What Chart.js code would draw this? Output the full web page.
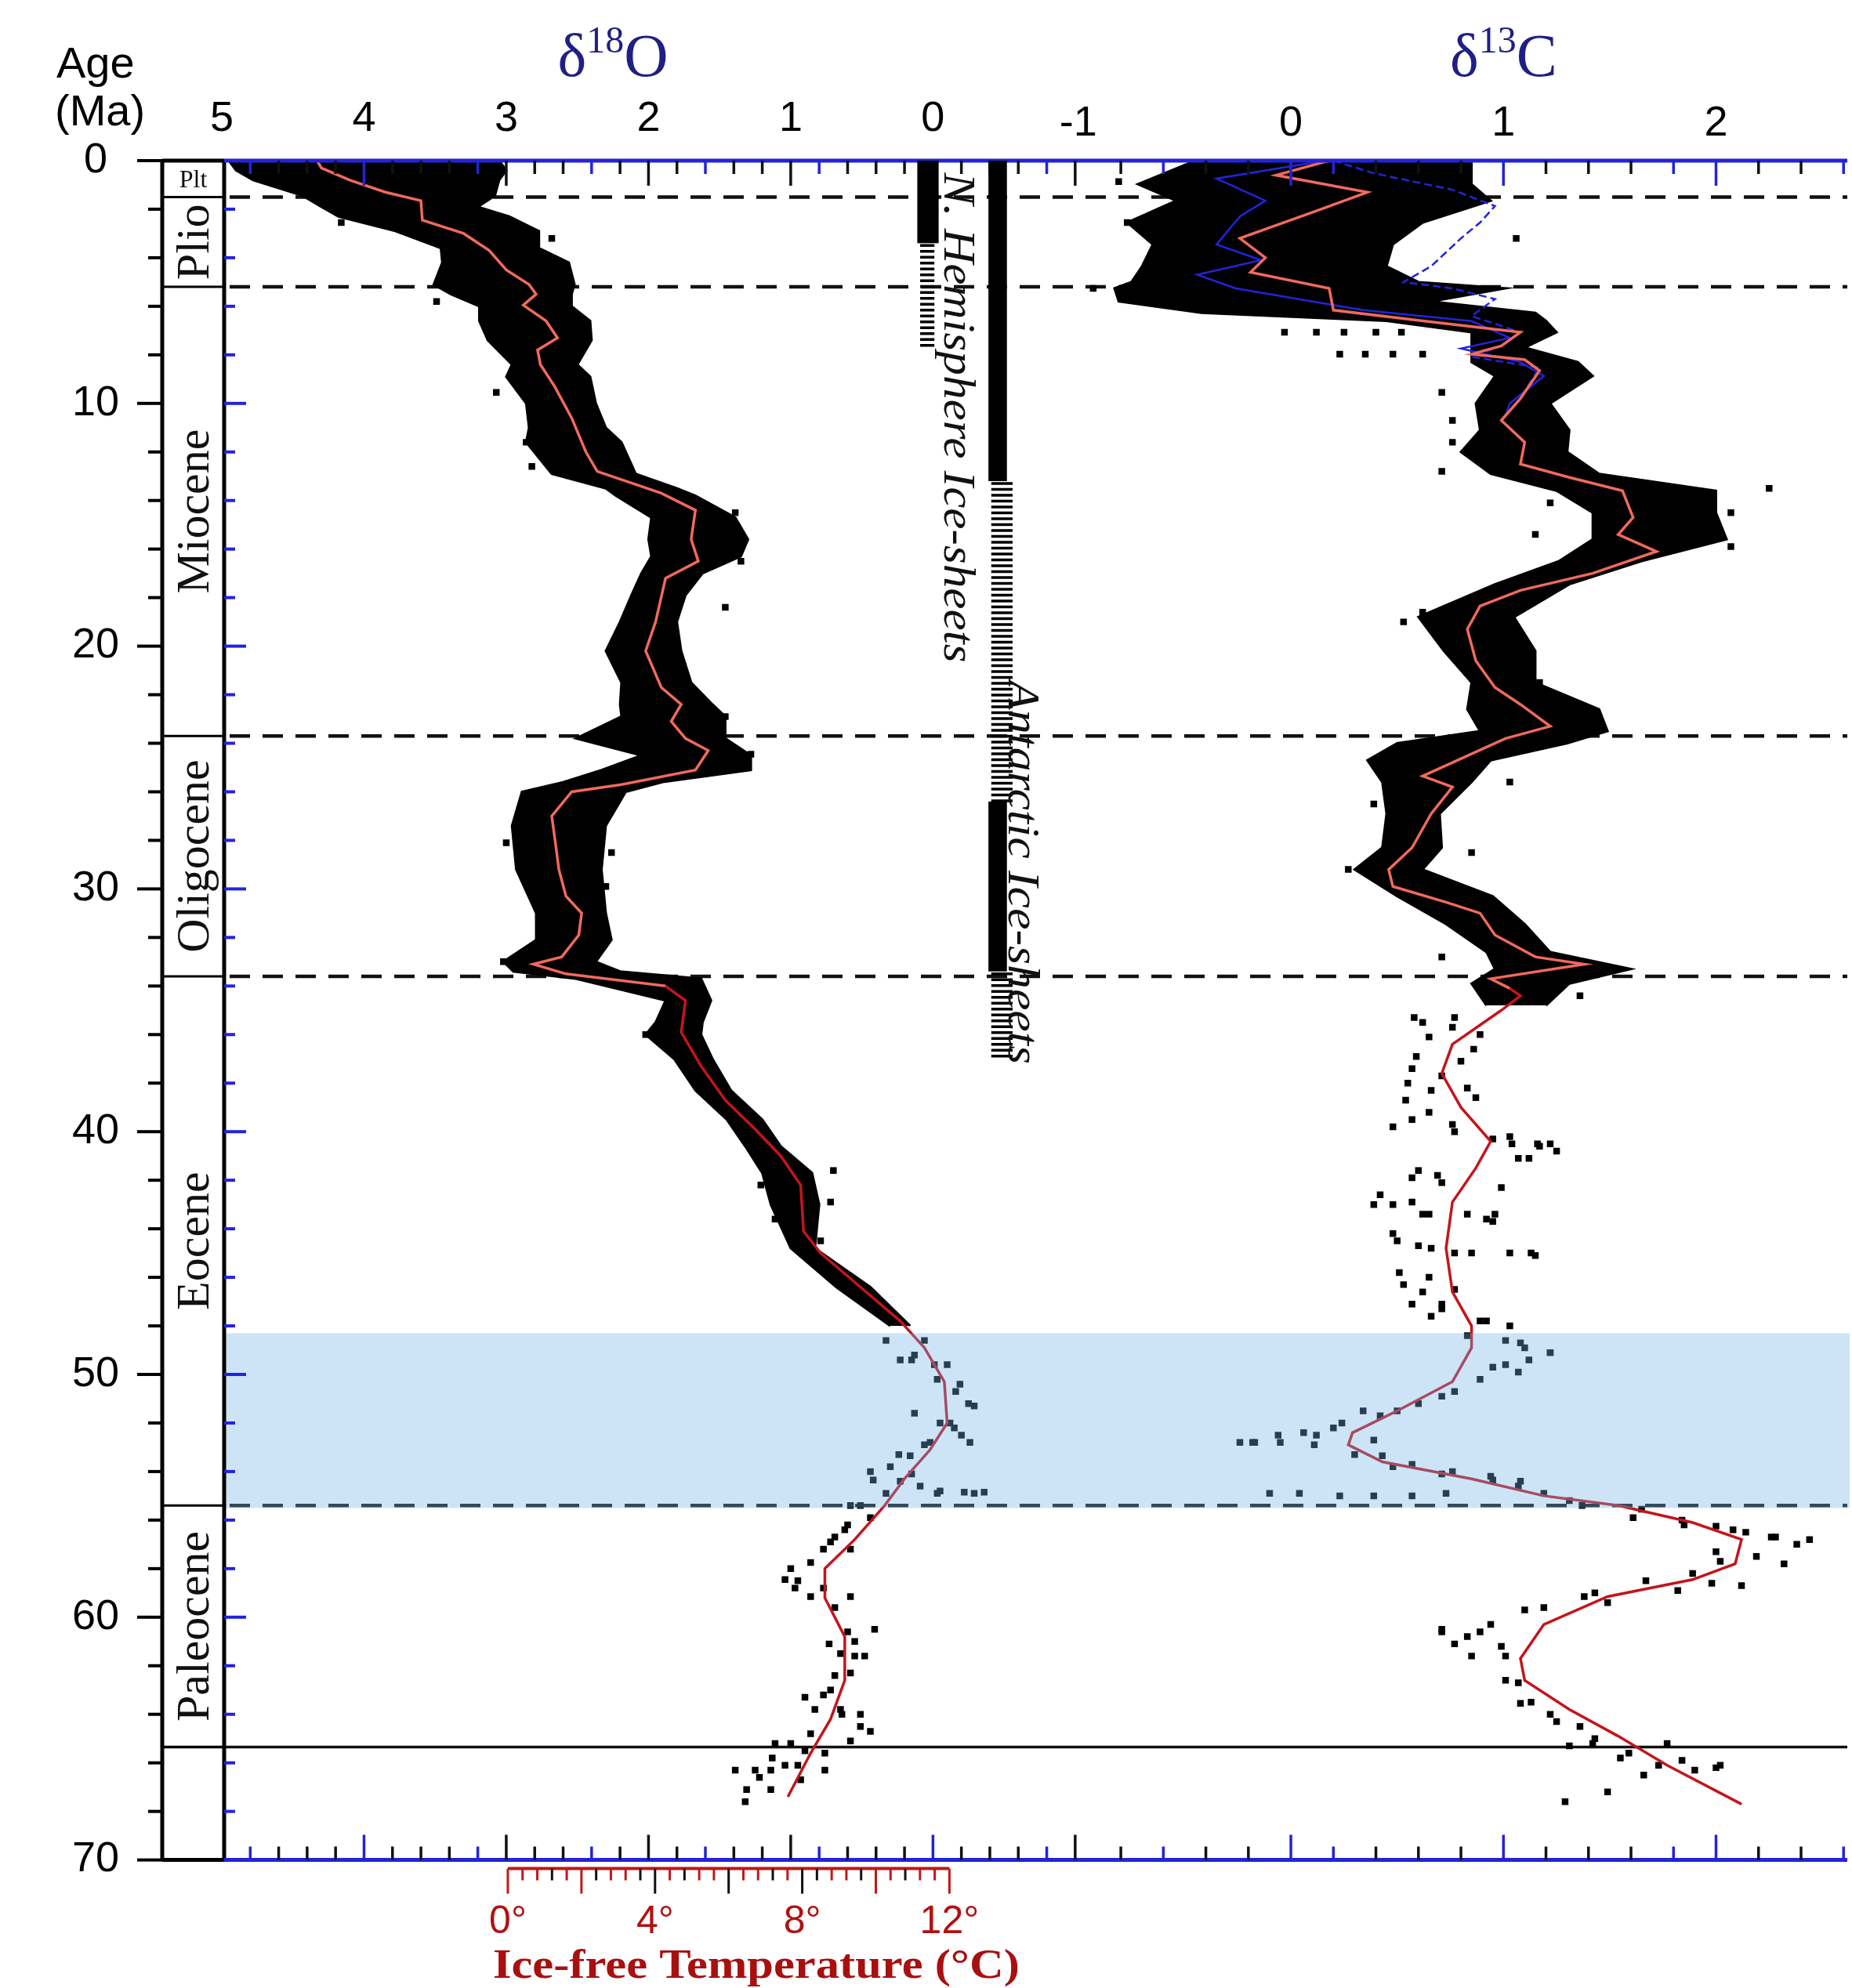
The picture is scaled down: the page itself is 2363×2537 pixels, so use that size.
<!DOCTYPE html>
<html lang="en">
<head>
<meta charset="UTF-8" />
<title>Cenozoic deep-sea d18O and d13C</title>
<script src="https://cdn.jsdelivr.net/npm/chart.js"></script>
<style>
  html, body { margin: 0; padding: 0; background: #fff; }
  canvas { display: block; }
</style>
</head>
<body>
<canvas id="chart" width="2363" height="2537"></canvas>
<script>
// ---------- DATA (age in Ma, isotope value in per mil) ----------

// smoothed d18O curve [age, d18O]
const o18Smooth = [[0,4.33],[0.3,4.3],[0.8,4.1],[1.3,3.85],[1.65,3.6],[2.45,3.59],[3.0,3.3],[3.7,3.12],[4.5,3.0],[5.1,2.84],[5.5,2.79],[5.95,2.88],[6.6,2.72],[7.3,2.64],[7.8,2.78],[8.4,2.76],[9.3,2.66],[10.6,2.54],[12.0,2.44],[12.8,2.36],[13.2,2.16],[13.7,1.91],[14.4,1.67],[15.6,1.7],[16.5,1.65],[17.2,1.88],[19.0,1.95],[20.2,2.02],[21.7,1.91],[22.4,1.77],[23.1,1.84],[23.8,1.74],[24.3,1.58],[25.1,1.67],[25.7,2.19],[26.0,2.54],[27.0,2.68],[28.3,2.65],[29.2,2.63],[30.3,2.58],[31.0,2.47],[31.9,2.49],[32.8,2.61],[33.1,2.81],[33.5,2.58],[34.0,1.88],[34.6,1.74],[35.9,1.77],[37.3,1.63],[38.7,1.46],[39.9,1.25],[41.0,1.07],[42.2,0.93],[44.1,0.91],[45.0,0.79],[46.4,0.51],[47.8,0.23],[48.9,0.06],[50.3,-0.08],[52.0,-0.10],[53.1,0.02],[54.3,0.20],[55.4,0.34],[56.8,0.55],[58.0,0.76],[59.2,0.76],[60.8,0.62],[62.6,0.62],[64.2,0.72],[65.6,0.86],[67.4,1.02]];

// dense part of the d18O data cloud [age, heavy edge, light edge]
const o18Band = [[0,4.95,3.05],[0.4,4.9,3.0],[0.8,4.78,3.05],[1.45,4.43,3.08],[1.9,4.3,3.2],[2.3,4.18,2.98],[2.9,3.78,2.77],[3.6,3.46,2.77],[4.2,3.45,2.56],[5.1,3.51,2.52],[5.5,3.39,2.54],[6.0,3.19,2.54],[6.6,3.19,2.41],[7.4,3.13,2.4],[8.4,2.96,2.5],[8.9,3.0,2.41],[10.0,2.86,2.37],[11.0,2.84,2.3],[11.6,2.86,2.19],[12.9,2.68,2.09],[13.5,2.3,1.8],[13.8,2.23,1.67],[14.7,1.98,1.39],[15.6,2.0,1.3],[16.3,1.98,1.35],[17.0,2.05,1.62],[17.9,2.12,1.74],[19.0,2.2,1.8],[20.2,2.3,1.77],[21.5,2.19,1.7],[22.4,2.2,1.55],[22.9,2.19,1.46],[23.8,2.51,1.46],[24.5,2.05,1.28],[25.1,2.33,1.28],[25.6,2.6,1.9],[26.0,2.89,2.16],[27.4,2.96,2.3],[29.2,2.93,2.33],[31.0,2.79,2.3],[32.1,2.79,2.26],[33.0,3.02,2.37],[33.4,2.95,2.2],[33.7,2.51,1.63],[34.6,1.88,1.56],[35.5,1.95,1.62],[36.0,2.02,1.63],[37.0,1.82,1.55],[38.3,1.67,1.42],[39.5,1.45,1.2],[40.6,1.32,1.07],[41.7,1.2,0.85],[43.0,1.14,0.8],[44.8,1.0,0.83],[46.4,0.68,0.44],[48.0,0.3,0.16]];

// scattered d18O samples outside the dense band [age, d18O]
const o18Dots = [[2.55,4.16],[3.2,3.56],[3.2,2.68],[5.8,3.49],[9.55,3.07],[11.6,2.86],[12.6,2.82],[14.5,1.39],[16.5,1.35],[18.4,1.46],[21.2,1.74],[22.9,1.46],[24.45,1.28],[28.1,3.0],[28.5,2.26],[29.9,2.3],[33.0,3.02],[36.0,2.02],[41.6,0.7],[42.2,1.21],[43.6,1.11],[42.9,0.72],[44.5,0.79],[48.6,0.06],[49.2,0.13],[49.6,-0.01],[49.4,0.23],[49.6,-0.1],[50.4,-0.19],[51.3,-0.29],[51.6,0.13],[52.0,-0.05],[52.2,-0.15],[52.8,-0.26],[52.9,0.06],[53.35,0.16],[53.8,0.3],[54.0,0.44],[54.4,0.23],[54.6,0.09],[54.8,-0.05],[54.85,-0.22],[54.85,-0.36],[55.4,0.58],[55.9,0.44],[56.4,0.62],[56.9,0.72],[57.2,0.58],[57.75,0.86],[58.45,1.04],[58.8,0.97],[59.15,0.86],[59.15,0.58],[60.5,0.41],[61.0,0.55],[61.5,0.65],[61.6,0.48],[62.3,0.58],[63.3,0.9],[63.0,0.72],[63.8,0.65],[63.8,0.83],[64.0,0.51],[64.7,0.44],[65.1,0.58],[65.2,1.11],[65.2,1.0],[65.5,0.9],[65.6,0.76],[66.3,1.39],[66.3,1.25],[66.3,1.14],[66.1,1.04],[66.3,0.76],[67.1,1.14],[67.6,1.32],[66.7,0.93],
  [48.6,0.33],[49.4,0.15],[50.2,-0.03],[50.7,-0.16],[51.2,-0.25],[52.0,-0.12],[52.5,-0.2],[52.8,0.02],[53.3,0.24],[54.1,0.15],[54.35,0.42],[54.9,0.33],[54.9,-0.03],[54.9,-0.29],[55.4,0.51],[56.2,0.6],[56.7,0.69],[57.2,0.77],[58.0,1.0],[58.5,0.95],[58.8,0.77],[59.6,0.69],[60.6,0.6],[61.1,0.73],[61.6,0.55],[62.4,0.69],[63.2,0.77],[64.0,0.64],[64.5,0.51],[64.8,0.86],[65.8,1.13],[66.1,0.95],[66.6,1.22],[67.1,1.31]];

// smoothed d13C curve [age, d13C]
const c13Smooth = [[0,0.18],[0.6,-0.07],[1.3,0.36],[2.1,0.11],[3.2,-0.24],[4.0,-0.12],[4.6,-0.19],[5.26,0.18],[6.16,0.2],[6.6,0.62],[7.07,1.08],[7.63,0.99],[7.97,0.85],[8.2,1.1],[8.65,1.17],[9.8,1.08],[10.7,0.99],[11.6,1.1],[12.5,1.08],[13.05,1.31],[13.6,1.56],[14.7,1.61],[15.4,1.54],[16.1,1.72],[17.0,1.42],[17.7,1.08],[18.35,0.89],[19.3,0.83],[20.6,0.87],[21.7,0.96],[22.4,1.08],[23.3,1.22],[23.8,1.01],[25.35,0.62],[25.8,0.76],[26.9,0.66],[28.3,0.57],[29.2,0.46],[29.9,0.48],[30.55,0.73],[31.0,0.89],[31.9,0.96],[32.8,1.15],[33.1,1.38],[33.7,0.94],[34.1,1.03],[34.4,1.08],[35.0,0.99],[36.4,0.76],[37.6,0.71],[39.0,0.8],[40.4,0.94],[41.5,0.87],[42.9,0.76],[44.8,0.73],[46.6,0.76],[48.0,0.85],[48.9,0.85],[50.3,0.76],[51.5,0.5],[52.4,0.29],[52.9,0.27],[53.6,0.43],[54.3,0.85],[55.0,1.19],[55.4,1.54],[56.1,1.89],[56.8,2.12],[57.8,2.09],[58.45,1.89],[59.15,1.49],[60.3,1.19],[61.7,1.08],[62.6,1.1],[63.8,1.31],[64.9,1.54],[66.1,1.77],[67.7,2.12]];

// two blue Neogene d13C records [age, d13C]
const c13BlueA = [[0,0.16],[0.74,-0.35],[1.65,-0.12],[2.3,-0.24],[3.45,-0.35],[4.1,-0.14],[4.7,-0.44],[5.26,-0.26],[6.16,0.34],[6.61,0.85],[7.3,1.03],[7.74,0.8],[8.3,1.08],[8.87,1.19],[10.0,1.03],[10.5,1.01]];
const c13BlueB = [[0,0.2],[0.52,0.39],[1.2,0.76],[1.87,0.96],[2.55,0.89],[3.2,0.8],[4.35,0.66],[5.0,0.53],[5.26,0.76],[5.7,0.96],[6.4,0.85],[7.07,1.08],[7.63,0.99],[8.08,0.85],[8.53,1.17],[9.77,1.08],[10.7,0.99]];

// dense part of the d13C data cloud [age, low edge, high edge]
const c13Band = [[0,-0.45,0.85],[0.97,-0.72,0.85],[1.65,-0.54,0.94],[2.55,-0.77,0.62],[3.45,-0.65,0.48],[4.35,-0.7,0.45],[5.0,-0.75,0.6],[5.26,-0.83,1.01],[5.8,-0.81,0.66],[6.27,-0.42,1.15],[6.6,0.45,1.2],[7.07,0.85,1.25],[7.7,0.85,1.1],[8.3,0.85,1.35],[8.87,0.96,1.42],[10.0,0.87,1.22],[11.1,0.89,1.31],[12.0,0.8,1.3],[12.9,0.94,1.45],[13.6,1.25,2.0],[14.5,1.42,2.0],[15.6,1.42,2.05],[16.5,1.26,1.65],[17.45,0.96,1.31],[18.8,0.6,1.05],[20.2,0.72,1.15],[21.5,0.85,1.15],[22.6,0.83,1.45],[23.5,0.89,1.49],[24.0,0.5,1.3],[24.7,0.36,0.94],[25.6,0.43,0.85],[26.9,0.45,0.7],[28.3,0.43,0.71],[29.2,0.3,0.62],[30.3,0.5,0.95],[31.45,0.73,1.1],[32.6,0.92,1.22],[33.3,0.96,1.6],[33.9,0.85,1.31],[34.8,0.92,1.2]];

// scattered d13C samples [age, d13C]
const c13Dots = [[0.86,-0.81],[2.55,-0.77],[5.26,-0.93],[3.2,1.06],[7.07,-0.03],[7.07,0.12],[7.07,0.25],[7.07,0.4],[7.07,0.52],[7.97,0.23],[7.97,0.35],[7.97,0.48],[7.97,0.62],[9.55,0.71],[10.7,0.76],[11.6,0.76],[12.8,0.71],[14.1,1.22],[15.4,1.15],[13.5,2.25],[14.5,2.07],[15.9,2.07],[19.0,0.53],[18.6,0.62],[20.2,1.1],[21.5,1.17],[26.5,0.39],[25.6,1.03],[28.5,0.85],[29.2,0.27],[32.8,0.71],[34.4,1.36],[35.5,0.62],[35.7,0.76],[36.0,0.89],[36.9,0.59],[37.1,0.8],[38.0,0.55],[38.3,0.66],[38.6,0.87],[39.5,0.57],[39.7,0.76],[40.2,1.03],[40.6,1.17],[40.5,1.22],[41.1,1.12],[41.9,0.57],[41.8,0.69],[42.3,0.99],[43.0,0.39],[43.0,0.48],[43.4,0.62],[43.6,0.92],[43.4,0.96],[44.5,0.5],[44.8,0.66],[45.0,0.85],[45.0,1.03],[45.1,1.15],[46.3,0.53],[46.6,0.62],[47.1,0.71],[47.6,0.66],[47.8,0.92],[48.0,1.03],[48.7,1.08],[49.6,1.01],[49.4,1.12],[49.1,1.22],[50.2,0.89],[50.9,0.71],[51.5,0.5],[52.8,-0.24],[52.8,-0.17],[52.8,-0.05],[52.4,0.06],[52.9,0.11],[52.2,0.2],[52.7,0.39],[51.5,0.34],[53.35,0.43],[53.7,0.57],[54.0,0.76],[54.2,0.94],[54.4,1.08],[54.9,-0.1],[54.9,0.04],[55.0,0.23],[55.0,0.39],[55.0,0.57],[54.9,0.73],[55.2,1.31],[55.55,1.65],[56.0,1.84],[56.25,2.0],[56.5,2.14],[56.7,2.28],[56.8,2.44],[57.3,2.0],[57.5,2.19],[57.8,2.32],[58.2,1.89],[58.6,1.98],[58.7,2.12],[58.9,1.82],[59.15,1.38],[59.4,1.49],[60.5,0.71],[60.8,0.83],[60.3,0.94],[59.7,1.1],[61.6,0.85],[61.2,0.99],[62.6,1.01],[63.55,1.08],[64.0,1.22],[64.5,1.36],[65.3,1.31],[65.2,1.42],[65.6,1.59],[65.2,1.77],[65.9,1.84],[66.2,2.0],[66.5,1.66],[67.2,1.49],[67.6,1.29],
  [35.3,0.58],[35.3,0.77],[36.1,0.65],[36.6,0.86],[37.4,0.57],[37.7,0.71],[38.2,0.83],[38.7,0.54],[39.2,0.65],[39.8,0.48],[40.0,0.77],[40.3,0.95],[40.5,1.04],[40.5,1.16],[40.8,1.25],[41.1,1.07],[41.6,0.6],[42.1,0.71],[42.6,0.42],[42.9,0.57],[43.4,0.65],[43.4,0.83],[43.7,0.95],[44.2,0.48],[44.7,0.6],[45.0,0.77],[45.0,1.13],[45.8,0.51],[46.0,0.65],[46.5,0.77],[47.1,0.57],[47.3,0.71],[47.8,0.89],[48.4,0.83],[48.6,1.01],[48.9,1.1],[49.1,1.22],
  [49.7,0.95],[49.9,1.07],[50.7,0.77],[51.2,0.6],[51.7,0.42],[52.0,0.24],[52.5,0.12],[52.5,-0.06],[52.8,-0.18],[53.3,0.3],[53.8,0.48],[54.1,0.71],[54.35,0.95],[54.6,1.07],[54.9,1.19],
  [55.4,1.37],[55.9,1.61],[56.2,1.85],[56.4,2.08],[56.7,2.26],[57.0,2.38],[57.7,2.02],[58.5,1.67],[59.0,1.43],[59.6,1.19],[60.6,0.89],[61.1,0.77],[60.6,0.71],[61.6,1.01],[62.7,1.07],[63.5,1.13],[64.3,1.25],[65.0,1.43],[65.8,1.55],[66.1,1.73],[66.3,1.9],[66.1,2.02]];

// epochs: names and boundaries (Ma)
const epochNames = ['Plt', 'Plio', 'Miocene', 'Oligocene', 'Eocene', 'Paleocene', ''];
const epochBounds = [0, 1.5, 5.2, 23.7, 33.6, 55.4, 65.35, 70];

// ice sheets (Ma): [from, to]
const nhSolid = [[0, 3.4]];
const nhPartial = [[3.4, 7.7]];
const antSolid = [[0, 13.2], [26.4, 33.4]];
const antPartial = [[13.2, 26.4], [33.4, 37.1]];

// shaded interval (Ma)
const shadeAges = [48.3, 55.5];

// tick labels
const o18Labels = [5, 4, 3, 2, 1, 0];
const c13Labels = [-1, 0, 1, 2];
const tempLabels = [0, 4, 8, 12];

// ---------- helpers ----------
const pts = pairs => pairs.map(p => ({ x: p[1], y: p[0] }));
const edge = (band, k) => band.map(b => ({ x: b[k], y: b[0] }));
const isLabel = (list, v) => list.some(n => Math.abs(n - v) < 1e-6);

const SANS = "'Liberation Sans', Arial, Helvetica, sans-serif";
const SERIF = "'Liberation Serif', 'Times New Roman', serif";
const BLUE = '#2323dc';
const redSeg = { borderColor: c => (c.p0.parsed.y < 34 ? '#f06a5c' : '#c3151b') };

function lineSet(label, axis, pairs, color, width, extra) {
  return Object.assign({
    label: label, xAxisID: axis, yAxisID: 'y', data: pts(pairs),
    borderColor: color, borderWidth: width, pointRadius: 0, fill: false, tension: 0
  }, extra || {});
}
function dotSet(label, axis, pairs) {
  return {
    label: label, xAxisID: axis, yAxisID: 'y', data: pts(pairs), showLine: false,
    pointStyle: 'rect', pointRadius: 6, pointBackgroundColor: '#000', pointBorderWidth: 0
  };
}
function bandSet(label, axis, band, k, fill) {
  return {
    label: label, xAxisID: axis, yAxisID: 'y', data: edge(band, k),
    borderColor: '#000', borderWidth: 3, backgroundColor: '#000', pointRadius: 0, fill: fill
  };
}

// ---------- extra drawing: frame, epochs, ice sheets, titles ----------
const frame = {
  id: 'frame',
  beforeDatasetsDraw(chart) {
    const { ctx, chartArea: a, scales: { y } } = chart;
    ctx.save();
    ctx.strokeStyle = '#111';
    ctx.lineWidth = 4.5;
    ctx.setLineDash([26, 16]);
    epochBounds.slice(1, 6).forEach(age => {
      const py = y.getPixelForValue(age);
      ctx.beginPath(); ctx.moveTo(a.left + 10, py); ctx.lineTo(a.right, py); ctx.stroke();
    });
    ctx.setLineDash([]);
    ctx.lineWidth = 3.5;
    const pk = y.getPixelForValue(epochBounds[6]);
    ctx.beginPath(); ctx.moveTo(a.left - 76, pk); ctx.lineTo(a.right, pk); ctx.stroke();
    ctx.restore();
  },
  afterDatasetsDraw(chart) {
    const { ctx, chartArea: a, scales } = chart;
    const y = scales.y, x18 = scales.x18, x13 = scales.x13, xT = scales.xT;
    ctx.save();

    // shaded interval
    const s0 = y.getPixelForValue(shadeAges[0]), s1 = y.getPixelForValue(shadeAges[1]);
    ctx.fillStyle = 'rgba(111,177,231,0.35)';
    ctx.fillRect(a.left + 3, s0, a.right - a.left, s1 - s0);

    // epoch column
    const colL = a.left - 76, colR = a.left + 3;
    ctx.strokeStyle = '#000';
    ctx.lineWidth = 3;
    epochBounds.slice(1, 7).forEach(age => {
      const py = y.getPixelForValue(age);
      ctx.beginPath(); ctx.moveTo(colL, py); ctx.lineTo(colR, py); ctx.stroke();
    });
    ctx.lineWidth = 5;
    ctx.beginPath();
    ctx.moveTo(colL, a.top); ctx.lineTo(colL, a.bottom);
    ctx.moveTo(colR, a.top); ctx.lineTo(colR, a.bottom);
    ctx.moveTo(colL, a.top); ctx.lineTo(colR, a.top);
    ctx.moveTo(colL, a.bottom); ctx.lineTo(colR, a.bottom);
    ctx.stroke();

    ctx.fillStyle = '#111';
    ctx.textAlign = 'center';
    ctx.textBaseline = 'middle';
    epochNames.forEach((name, i) => {
      if (!name) return;
      const cy = (y.getPixelForValue(epochBounds[i]) + y.getPixelForValue(epochBounds[i + 1])) / 2;
      const cx = (colL + colR) / 2;
      if (i === 0) {
        ctx.font = '32px ' + SERIF;
        ctx.fillText(name, cx, cy + 2);
      } else {
        ctx.save();
        ctx.translate(cx + 2, cy);
        ctx.rotate(-Math.PI / 2);
        ctx.font = '60px ' + SERIF;
        ctx.fillText(name, 0, 2);
        ctx.restore();
      }
    });

    // age ticks: outer (black) and inner (blue)
    for (let age = 0; age <= 70; age += 2) {
      const py = y.getPixelForValue(age);
      const major = age % 10 === 0;
      ctx.strokeStyle = '#000';
      ctx.lineWidth = 4;
      ctx.beginPath(); ctx.moveTo(colL, py); ctx.lineTo(colL - (major ? 32 : 18), py); ctx.stroke();
      ctx.strokeStyle = BLUE;
      ctx.beginPath(); ctx.moveTo(colR, py); ctx.lineTo(colR + (major ? 28 : 14), py); ctx.stroke();
    }

    // top and bottom axis lines with inward ticks
    ctx.strokeStyle = BLUE;
    ctx.lineWidth = 5;
    ctx.beginPath();
    ctx.moveTo(colR, a.top); ctx.lineTo(a.right, a.top);
    ctx.moveTo(colR, a.bottom); ctx.lineTo(a.right, a.bottom);
    ctx.stroke();
    const tickAt = (px, major, blue) => {
      const len = major ? 32 : 17;
      ctx.strokeStyle = blue ? BLUE : '#111';
      ctx.lineWidth = 3.5;
      ctx.beginPath();
      ctx.moveTo(px, a.top); ctx.lineTo(px, a.top + len);
      ctx.moveTo(px, a.bottom); ctx.lineTo(px, a.bottom - len);
      ctx.stroke();
    };
    for (let k = 1; k <= 30; k++) {
      const v = 5 - k * 0.2;
      tickAt(x18.getPixelForValue(v), k % 5 === 0, k % 4 === 1);
    }
    for (let k = 1; k <= 18; k++) {
      const v = -1 + k * 0.2;
      tickAt(x13.getPixelForValue(v), k % 5 === 0, k % 5 === 0 || k % 4 === 2);
    }

    // ice sheets
    const bar = (ranges, v0, v1, hatched) => {
      const px0 = x18.getPixelForValue(v0), px1 = x18.getPixelForValue(v1);
      ranges.forEach(r => {
        const p0 = y.getPixelForValue(r[0]), p1 = y.getPixelForValue(r[1]);
        if (!hatched) {
          ctx.fillStyle = '#000';
          ctx.fillRect(px0, p0, px1 - px0, p1 - p0);
        } else {
          ctx.strokeStyle = '#000';
          ctx.lineWidth = 3.5;
          ctx.beginPath();
          for (let py = p0 + 3; py < p1; py += 7.5) { ctx.moveTo(px0, py); ctx.lineTo(px1, py); }
          ctx.stroke();
        }
      });
    };
    bar(nhSolid, 0.11, -0.04, false);
    bar(nhPartial, 0.09, -0.01, true);
    bar(antSolid, -0.39, -0.52, false);
    bar(antPartial, -0.41, -0.56, true);

    const vText = (txt, bx, top, len) => {
      ctx.save();
      ctx.font = 'italic 58px ' + SERIF;
      const w = ctx.measureText(txt).width;
      ctx.translate(bx, top);
      ctx.rotate(Math.PI / 2);
      ctx.scale(len / w, 1);
      ctx.fillStyle = '#111';
      ctx.textAlign = 'left';
      ctx.textBaseline = 'alphabetic';
      ctx.fillText(txt, 0, 0);
      ctx.restore();
    };
    vText('N. Hemisphere Ice-sheets', x18.getPixelForValue(-0.08), y.getPixelForValue(0.5), 625);
    vText('Antarctic Ice-sheets', x18.getPixelForValue(-0.53), y.getPixelForValue(21.4), 490);

    // isotope titles
    const isoTitle = (sup, letter, cx) => {
      ctx.fillStyle = '#1f1f86';
      ctx.textAlign = 'left';
      ctx.textBaseline = 'alphabetic';
      const big = '78px ' + SERIF, small = '48px ' + SERIF;
      ctx.font = big; const wd = ctx.measureText('\u03b4').width; const wl = ctx.measureText(letter).width;
      ctx.font = small; const ws = ctx.measureText(sup).width;
      let x = cx - (wd + ws + wl) / 2;
      const base = 97;
      ctx.font = big; ctx.fillText('\u03b4', x, base); x += wd;
      ctx.font = small; ctx.fillText(sup, x, base - 30); x += ws;
      ctx.font = big; ctx.fillText(letter, x, base);
    };
    isoTitle('18', 'O', x18.getPixelForValue(2.25));
    isoTitle('13', 'C', x13.getPixelForValue(1.0));

    // age axis caption
    ctx.fillStyle = '#000';
    ctx.font = '56px ' + SANS;
    ctx.textAlign = 'left';
    ctx.fillText('Age', 72, 99);
    ctx.fillText('(Ma)', 70, 160);

    // ice-free temperature scale
    const t0 = xT.getPixelForValue(0), t12 = xT.getPixelForValue(12);
    const ty = a.bottom + 11;
    ctx.strokeStyle = '#c01818';
    ctx.lineWidth = 4;
    ctx.beginPath(); ctx.moveTo(t0, ty); ctx.lineTo(t12, ty); ctx.stroke();
    for (let k = 0; k <= 30; k++) {
      const t = k * 0.4;
      const px = xT.getPixelForValue(t);
      const major = k % 5 === 0;
      ctx.strokeStyle = (major && k % 10 !== 5) || k % 3 === 0 ? '#111' : '#c01818';
      if (k === 0 || k === 30) ctx.strokeStyle = '#c01818';
      ctx.lineWidth = 3;
      ctx.beginPath(); ctx.moveTo(px, ty); ctx.lineTo(px, ty + (major ? 32 : 15)); ctx.stroke();
    }
    ctx.font = 'bold 52px ' + SERIF;
    ctx.fillStyle = '#a8100f';
    ctx.textAlign = 'center';
    const tt = 'Ice-free Temperature (\u00b0C)';
    const tw = ctx.measureText(tt).width;
    ctx.save();
    ctx.translate(xT.getPixelForValue(6.75), 2524);
    ctx.scale(672 / tw, 1);
    ctx.fillText(tt, 0, 0);
    ctx.restore();

    ctx.restore();
  }
};

// ---------- chart ----------
const tickFont = { family: SANS, size: 54 };

new Chart(document.getElementById('chart'), {
  type: 'line',
  data: {
    datasets: [
      lineSet('d18O smoothed', 'x18', o18Smooth, '#f06a5c', 3.5, { segment: redSeg }),
      lineSet('d13C smoothed', 'x13', c13Smooth, '#f06a5c', 3.5, { segment: redSeg }),
      lineSet('d13C record A', 'x13', c13BlueA, BLUE, 2.5),
      lineSet('d13C record B', 'x13', c13BlueB, BLUE, 2.5, { borderDash: [10, 5] }),
      dotSet('d18O samples', 'x18', o18Dots),
      dotSet('d13C samples', 'x13', c13Dots),
      bandSet('d18O cloud', 'x18', o18Band, 1, '+1'),
      bandSet('d18O cloud edge', 'x18', o18Band, 2, false),
      bandSet('d13C cloud', 'x13', c13Band, 1, '+1'),
      bandSet('d13C cloud edge', 'x13', c13Band, 2, false)
    ]
  },
  options: {
    indexAxis: 'y',
    responsive: false,
    animation: false,
    devicePixelRatio: 1,
    events: [],
    layout: { padding: 0 },
    plugins: { legend: { display: false }, tooltip: { enabled: false } },
    scales: {
      y: {
        type: 'linear', position: 'left', min: 0, max: 70, reverse: true,
        afterFit: s => { s.width = 283; },
        grid: { display: false, drawTicks: false }, border: { display: false },
        ticks: { stepSize: 10, padding: 131, crossAlign: 'center', color: '#000', font: tickFont }
      },
      x18: {
        type: 'linear', position: 'top', reverse: true, min: -6.4286, max: 5.0, weight: 10,
        afterFit: s => { s.height = 205; },
        grid: { display: false, drawTicks: false }, border: { display: false },
        ticks: {
          includeBounds: false, stepSize: 1, autoSkip: false, maxRotation: 0, padding: 20,
          color: '#000', font: tickFont,
          callback: v => (isLabel(o18Labels, v) ? String(Math.round(v)) : null)
        }
      },
      x13: {
        // zero-height axis sharing the label row of x18; mirror keeps its labels unclipped
        type: 'linear', position: 'top', min: -5.0294, max: 2.6176, weight: 0,
        afterFit: s => { s.height = 0; },
        grid: { display: false, drawTicks: false }, border: { display: false },
        ticks: {
          includeBounds: false, mirror: true, stepSize: 1, autoSkip: false, maxRotation: 0, padding: -79,
          color: '#000', font: tickFont,
          callback: v => (isLabel(c13Labels, v) ? String(Math.round(v)) : null)
        }
      },
      xT: {
        type: 'linear', position: 'bottom', min: -7.7735, max: 36.4,
        afterFit: s => { s.height = 158; },
        grid: { display: false, drawTicks: false }, border: { display: false },
        ticks: {
          includeBounds: false, stepSize: 4, autoSkip: false, maxRotation: 0, padding: 50, color: '#b01212',
          font: { family: SANS, size: 50 },
          callback: v => (isLabel(tempLabels, v) ? Math.round(v) + '\u00b0' : null)
        }
      }
    }
  },
  plugins: [frame]
});
</script>
</body>
</html>
